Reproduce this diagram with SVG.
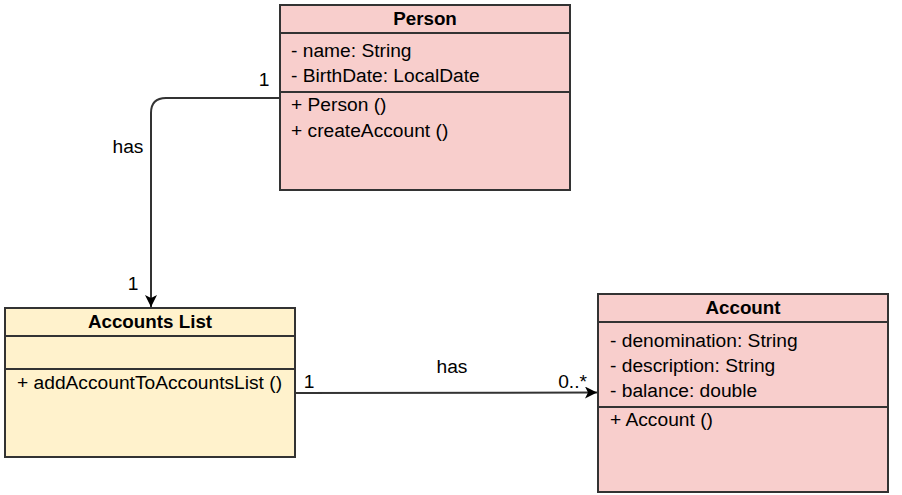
<svg xmlns="http://www.w3.org/2000/svg" width="902" height="495" viewBox="0 0 902 495">
<defs>
<style>
text{font-family:"Liberation Sans",Arial,sans-serif;font-size:19.2px;fill:#000}
.t{font-weight:bold;text-anchor:middle;font-size:18.8px}
.box{stroke:#333;stroke-width:2}
.pink{fill:#f8cecc}
.yel{fill:#fff2cc}
.sep{stroke:#333;stroke-width:2;fill:none}
.edge{stroke:#333;stroke-width:2;fill:none}
</style>
<marker id="arr" viewBox="0 0 12 12" refX="12" refY="6" markerWidth="12" markerHeight="12" markerUnits="userSpaceOnUse" orient="auto">
<path d="M0,0 L12,6 L0,12 L3,6 Z" fill="#000"/>
</marker>
</defs>
<rect width="902" height="495" fill="#fff"/>
<g id="connectors">
<path class="edge" d="M280,98 H166 Q151,98 151,113 V307" marker-end="url(#arr)"/>
<path class="edge" d="M295,393 L597,392.5" marker-end="url(#arr)"/>
<text x="264" y="86" text-anchor="middle">1</text>
<text x="128" y="153" text-anchor="middle">has</text>
<text x="133" y="290" text-anchor="middle">1</text>
<text x="309" y="388" text-anchor="middle">1</text>
<text x="452" y="373" text-anchor="middle">has</text>
<text x="587" y="388" text-anchor="end">0..*</text>
</g>
<g id="person">
<rect class="box pink" x="280" y="5" width="290" height="185"/>
<line class="sep" x1="280" y1="33" x2="570" y2="33"/>
<line class="sep" x1="280" y1="92" x2="570" y2="92"/>
<text class="t" x="425" y="25">Person</text>
<text x="291" y="57">- name: String</text>
<text x="291" y="82">- BirthDate: LocalDate</text>
<text x="291" y="111">+ Person ()</text>
<text x="291" y="137">+ createAccount ()</text>
</g>
<g id="accountsList">
<rect class="box yel" x="5" y="308" width="290" height="149"/>
<line class="sep" x1="5" y1="336" x2="295" y2="336"/>
<line class="sep" x1="5" y1="369" x2="295" y2="369"/>
<text class="t" x="150" y="328">Accounts List</text>
<text x="17" y="389">+ addAccountToAccountsList ()</text>
</g>
<g id="account">
<rect class="box pink" x="598" y="294" width="290" height="198"/>
<line class="sep" x1="598" y1="322" x2="888" y2="322"/>
<line class="sep" x1="598" y1="407" x2="888" y2="407"/>
<text class="t" x="743" y="314">Account</text>
<text x="610" y="347">- denomination: String</text>
<text x="610" y="372">- description: String</text>
<text x="610" y="397">- balance: double</text>
<text x="610" y="426">+ Account ()</text>
</g>
</svg>
